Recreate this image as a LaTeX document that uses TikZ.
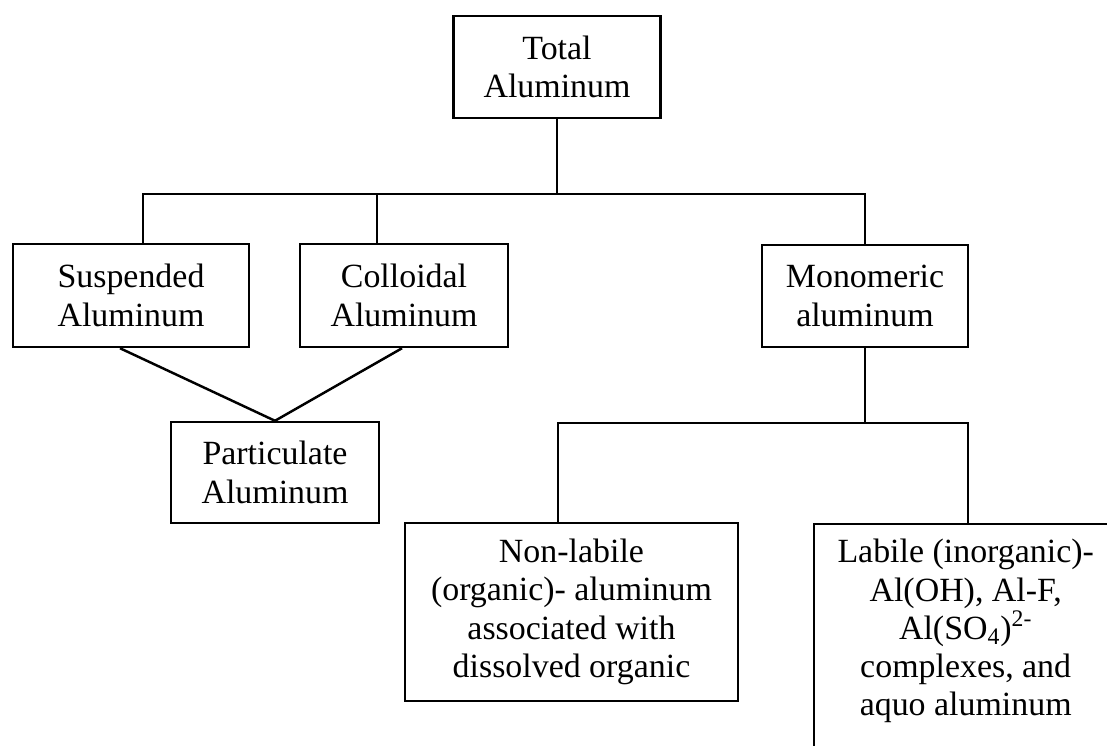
\documentclass[tikz,border=0pt]{standalone}
\usepackage{fontspec}
\setmainfont{Liberation Serif}

\begin{document}
\begin{tikzpicture}[x=0.02cm, y=-0.02cm, line width=1.4pt,
	box/.style={draw, align=center, inner sep=0pt, font=\fontsize{19.3}{21.8}\selectfont}]
	\useasboundingbox (0,0) rectangle (1107,745);
	\clip (0,0) rectangle (1107,745);
	\node[box, minimum width=4.14cm, minimum height=2.04cm] (total) at (557,67) {Total\\Aluminum};
	\node[box, minimum width=4.72cm, minimum height=2.06cm] (susp) at (131,295.5) {Suspended\\Aluminum};
	\node[box, minimum width=4.16cm, minimum height=2.06cm] (coll) at (404,295.5) {Colloidal\\Aluminum};
	\node[box, minimum width=4.12cm, minimum height=2.04cm] (mono) at (865,296) {Monomeric\\aluminum};
	\node[box, minimum width=4.16cm, minimum height=2.02cm] (part) at (275,472.5) {Particulate\\Aluminum};
	\node[box, minimum width=6.66cm, minimum height=3.56cm] (nonlab) at (571.5,612) {Non-labile\\(organic)- aluminum\\associated with\\dissolved organic};
	\node[box, anchor=north west, inner ysep=0.3cm] (labile) at (813,523) {\parbox[t][5cm][t]{6.06cm}{\centering Labile (inorganic)-\\Al(OH), Al-F,\\Al(SO\textsubscript{4})\textsuperscript{2-}\\complexes, and\\aquo aluminum}};
	\draw (total.south) -- ++(0,75) coordinate (top);
	\draw ([xshift=0.24cm]susp.north) |- (top) -| (mono.north);
	\draw ([xshift=-0.54cm]coll.north) -- ([xshift=-0.54cm]coll.north |- top);
	\draw (mono.south) -- ++(0,75) coordinate (low);
	\draw ([xshift=-0.27cm]nonlab.north) |- (low) -| ([xshift=3.1cm]labile.north west);
	\draw ([xshift=-0.22cm]susp.south) -- (part.north);
	\draw ([xshift=-0.04cm]coll.south) -- (part.north);
\end{tikzpicture}
\end{document}
